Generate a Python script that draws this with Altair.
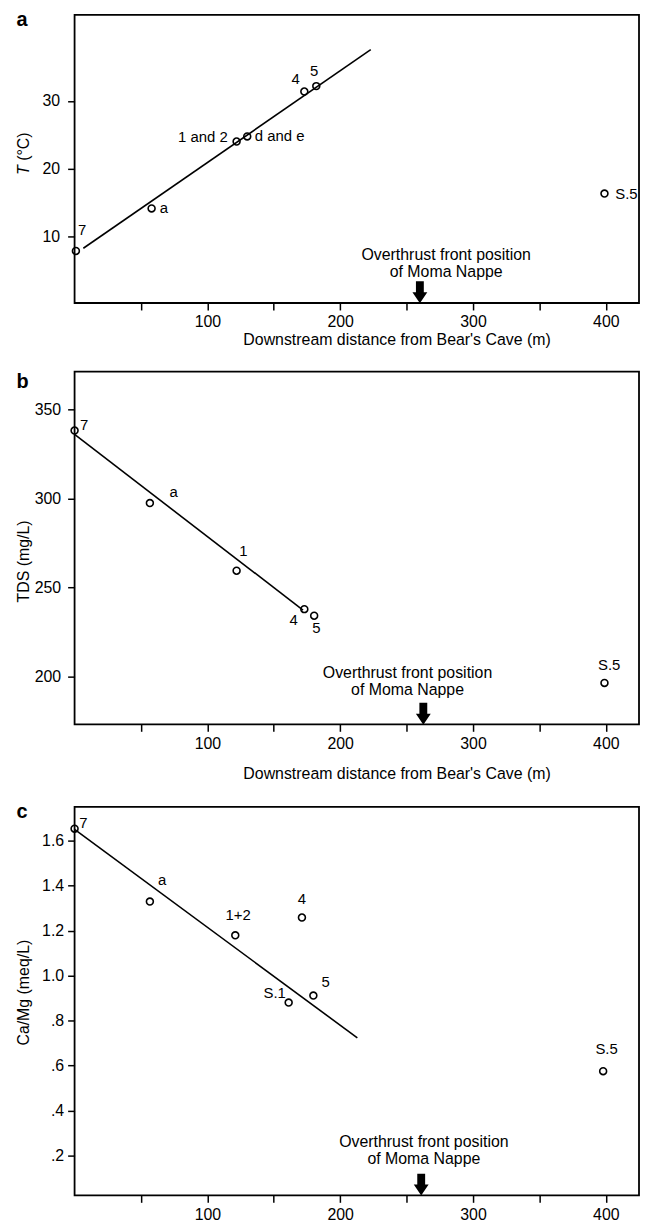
import altair as alt
import pandas as pd

FONT = "Liberation Sans"

# ---------------- data ----------------
# Panel a : temperature
a_x = [1, 58, 122, 130, 173, 182, 399]
a_y = [7.8, 14.1, 24.0, 24.75, 31.4, 32.2, 16.3]
a_lbl = ["7", "a", "1 and 2", "d and e", "4", "5", "S.5"]
a_lbl_x = [5.7, 67.2, 96.6, 154.4, 166.5, 180.4, 415.5]
a_lbl_y = [10.9, 14.1, 24.6, 24.75, 33.2, 34.4, 16.3]
a_fit_x = [6.6, 223]
a_fit_y = [8.2, 37.6]

# Panel b : TDS
b_x = [0, 56.7, 122, 173, 180.4, 399]
b_y = [338.0, 297.4, 259.5, 238.0, 234.3, 196.7]
b_lbl = ["7", "a", "1", "4", "5", "S.5"]
b_lbl_x = [7.2, 74.6, 127.2, 165, 182, 402.5]
b_lbl_y = [341.3, 303.3, 270.8, 231.9, 227.3, 206.8]
b_fit_x = [0, 172]
b_fit_y = [335.8, 237.5]

# Panel c : Ca/Mg
c_x = [0, 56.7, 121, 171.2, 161.2, 179.8, 398]
c_y = [1.653, 1.329, 1.179, 1.258, 0.880, 0.911, 0.575]
c_lbl = ["7", "a", "1+2", "4", "S.1", "5", "S.5"]
c_lbl_x = [6.6, 66, 123.2, 171.2, 150.7, 189, 400.6]
c_lbl_y = [1.679, 1.426, 1.267, 1.341, 0.921, 0.973, 0.674]
c_fit_x = [0, 212.9]
c_fit_y = [1.65, 0.723]

# Overthrust front annotation (per panel a, b, c)
front_x = [260, 262.6, 261]
front_y = [1.7, 179.4, 0.071]
front_text_x = [279.8, 250.7, 263]
front_text_y = [7.2, 202.2, 0.259]
FRONT_TEXT = "Overthrust front position\nof Moma Nappe"

x_ticks = [50, 100, 150, 200, 250, 300, 350, 400]
a_ticks = [10, 20, 30]
b_ticks = [200, 250, 300, 350]
c_ticks = [0.2, 0.4, 0.6, 0.8, 1.0, 1.2, 1.4, 1.6]

ARROW = "M -0.36 -1 L 0.36 -1 L 0.36 0 L 0.68 0 L 0 1 L -0.68 0 L -0.36 0 Z"
W = 568


def panel(xs, ys, lbl, lx, ly, fx, fy, i, ydom, yticks, height, label_pad,
          letter, letter_y, ytitle_marks, x_title, x_title_y, ylabel_expr=None):
    xsc = alt.Scale(domain=[0, 425], nice=False, zero=False)
    ysc = alt.Scale(domain=ydom, nice=False, zero=False)
    if x_title is not None:
        xax = alt.Axis(values=x_ticks, format="d",
                       labelExpr="datum.value % 100 == 0 ? datum.label : ''",
                       tickSize=7, labelPadding=4, title=x_title,
                       titleX=324, titleY=x_title_y, titleBaseline="alphabetic",
                       titleAlign="center")
    else:
        xax = alt.Axis(values=x_ticks, format="d",
                       labelExpr="datum.value % 100 == 0 ? datum.label : ''",
                       tickSize=7, labelPadding=4, title=None)
    yax_kw = dict(values=yticks, tickSize=7, labelPadding=label_pad,
                  minExtent=40, maxExtent=40, title=None)
    if ylabel_expr:
        yax_kw["labelExpr"] = ylabel_expr
    yax = alt.Axis(**yax_kw)

    pts = pd.DataFrame({"x": xs, "y": ys})
    labs = pd.DataFrame({"x": lx, "y": ly, "t": lbl})
    fit = pd.DataFrame({"x": fx, "y": fy})
    front = pd.DataFrame({"x": [front_x[i]], "y": [front_y[i]],
                          "tx": [front_text_x[i]], "ty": [front_text_y[i]],
                          "t": [FRONT_TEXT], "letter": [letter]})

    base_x = alt.X("x:Q", scale=xsc, axis=xax)
    base_y = alt.Y("y:Q", scale=ysc, axis=yax)

    line = alt.Chart(fit).mark_line(color="black", strokeWidth=1.6).encode(
        x=base_x, y=base_y)
    points = alt.Chart(pts).mark_point(shape="circle", filled=False, color="black",
                                       strokeWidth=1.6, size=48, opacity=1).encode(
        x="x:Q", y="y:Q")
    texts = alt.Chart(labs).mark_text(font=FONT, fontSize=15, color="black",
                                      align="center", baseline="middle").encode(
        x="x:Q", y="y:Q", text="t:N")
    arrow = alt.Chart(front).mark_point(shape=ARROW, filled=True, color="black",
                                        size=484, opacity=1, strokeWidth=0).encode(
        x="x:Q", y="y:Q")
    ftext = alt.Chart(front).mark_text(font=FONT, fontSize=16, color="black",
                                       align="center", baseline="middle",
                                       lineBreak="\n", lineHeight=17).encode(
        x="tx:Q", y="ty:Q", text="t:N")
    let = alt.Chart(front).mark_text(font=FONT, fontSize=20, fontWeight="bold",
                                     color="black", align="left",
                                     baseline="alphabetic").encode(
        x=alt.value(-58.5), y=alt.value(letter_y), text="letter:N")
    layers = [line, points, texts, arrow, ftext, let]
    for (txt, style, ypos, align) in ytitle_marks:
        d = pd.DataFrame({"t": [txt]})
        layers.append(alt.Chart(d).mark_text(font=FONT, fontSize=16, fontStyle=style,
                                             color="black", angle=270, align=align,
                                             baseline="alphabetic").encode(
            x=alt.value(-46), y=alt.value(ypos), text="t:N"))
    return alt.layer(*layers).properties(width=W, height=height)


pa = panel(a_x, a_y, a_lbl, a_lbl_x, a_lbl_y, a_fit_x, a_fit_y, 0,
           [0.1, 42.75], a_ticks, 290, 8, "a", 11.7,
           [("T", "italic", 161.1, "left"), ("(°C)", "normal", 146.9, "left")],
           "Downstream distance from Bear's Cave (m)", 42)
pb = panel(b_x, b_y, b_lbl, b_lbl_x, b_lbl_y, b_fit_x, b_fit_y, 1,
           [173.5, 371], b_ticks, 355, 7, "b", 16.3,
           [("TDS (mg/L)", "normal", 191, "center")],
           "Downstream distance from Bear's Cave (m)", 55)
pc = panel(c_x, c_y, c_lbl, c_lbl_x, c_lbl_y, c_fit_x, c_fit_y, 2,
           [0.023, 1.75], c_ticks, 391, 4, "c", 11.3,
           [("Ca/Mg (meq/L)", "normal", 187, "center")],
           None, 0,
           ylabel_expr="datum.value < 1 ? '.' + format(datum.value * 10, '.0f') : format(datum.value, '.1f')")

chart = alt.vconcat(pa, alt.vconcat(pb, pc, spacing=18), spacing=22).configure_view(
    stroke="black", strokeWidth=1.8
).configure_axis(
    labelFont=FONT, labelFontSize=16, labelColor="black",
    tickColor="black", tickWidth=1.5, domain=False, grid=False,
    titleFont=FONT, titleFontSize=16, titleFontWeight="normal", titleColor="black"
).properties(
    padding={"left": 7, "top": -3, "right": 0, "bottom": 5},
    background="white"
)

chart.save("out.html", embed_options={"renderer": "svg", "actions": False})
